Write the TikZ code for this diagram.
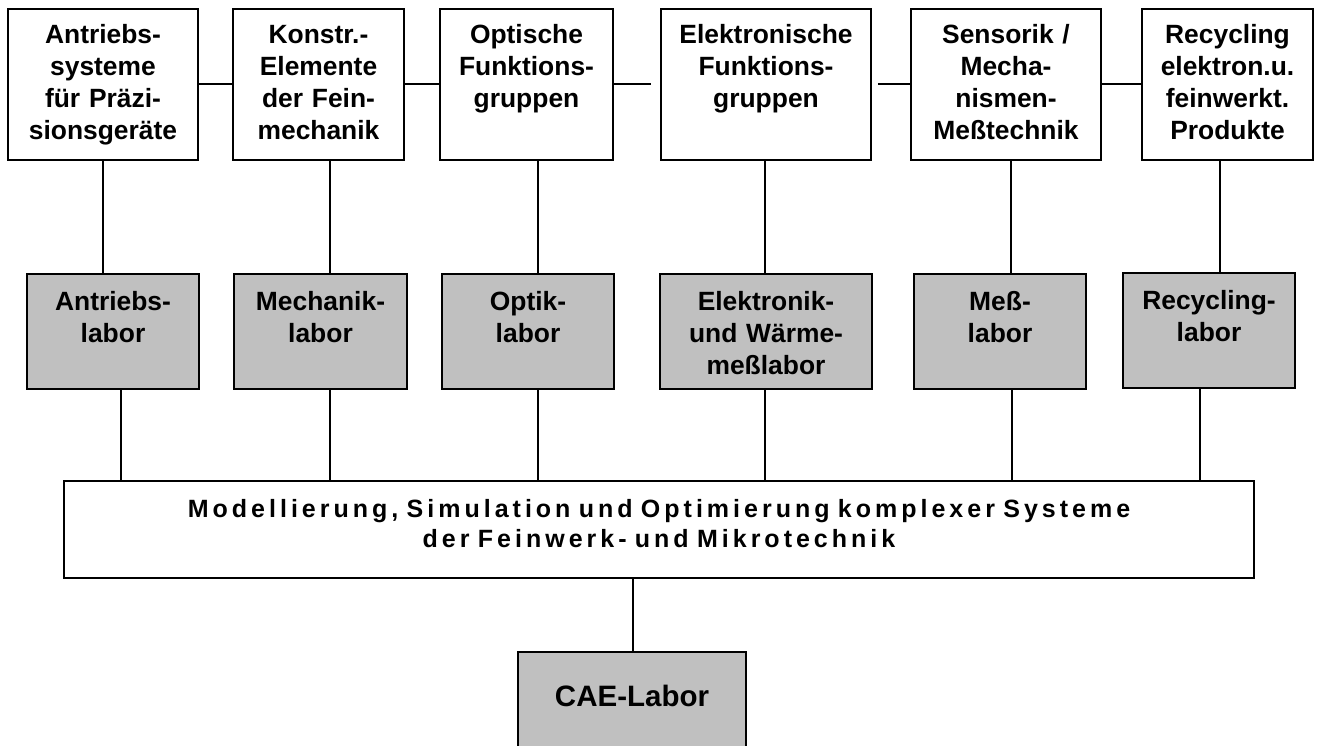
\documentclass[tikz,border=0pt]{standalone}
\usepackage{fontspec}
\setmainfont{Liberation Sans}
\newfontfamily\spacedfont[LetterSpace=16,WordSpace=1.2]{Liberation Sans}
\definecolor{labgray}{HTML}{C0C0C0}
\begin{document}
\begin{tikzpicture}[x=1pt,y=-1pt,
        box/.style={draw,line width=1.8pt,inner sep=0pt,align=center,anchor=north,
            font=\fontsize{26.4}{31.7}\selectfont\bfseries},
        topbox/.style={box,text height=35pt,text depth=116pt},
        labbox/.style={box,fill=labgray,text height=37pt,text depth=78pt},
        vline/.style={line width=1.3pt},
        hline/.style={line width=1.9pt}]
\useasboundingbox (0,0) rectangle (1322,745);

\node[topbox,text width=190pt] at (103,8) (t1) {Antriebs-\\systeme\\für Präzi-\\sionsgeräte};
\node[topbox,text width=171pt] at (318.5,8) (t2) {Konstr.-\\Elemente\\der Fein-\\mechanik};
\node[topbox,text width=173pt] at (526.5,8) (t3) {Optische\\Funktions-\\gruppen};
\node[topbox,text width=210pt] at (766,8) (t4) {Elektronische\\Funktions-\\gruppen};
\node[topbox,text width=190pt] at (1006,8) (t5) {Sensorik /\\Mecha-\\nismen-\\Meßtechnik};
\node[topbox,text width=171pt] at (1227.5,8) (t6) {Recycling\\elektron.u.\\feinwerkt.\\Produkte};

\node[labbox,text width=172.5pt] at (113,273) (m1) {Antriebs-\\labor};
\node[labbox,text width=173pt] at (320.5,273) (m2) {Mechanik-\\labor};
\node[labbox,text width=172.5pt] at (528,273) (m3) {Optik-\\labor};
\node[labbox,text width=212pt] at (766,273) (m4) {Elektronik-\\und Wärme-\\meßlabor};
\node[labbox,text width=171.5pt] at (1000,273) (m5) {Meß-\\labor};
\node[labbox,text width=172pt] at (1209,272) (m6) {Recycling-\\labor};

\node[box,text width=1190pt,text height=37pt,text depth=60pt,
    font=\spacedfont\fontsize{25}{30}\selectfont\bfseries] at (659,480) (model)
    {Modellierung, Simulation und Optimierung komplexer Systeme\\der Feinwerk- und Mikrotechnik};
\node[box,fill=labgray,text width=228pt,text height=55pt,text depth=42pt,
    font=\fontsize{29.5}{35}\selectfont\bfseries] at (632,651) (cae) {CAE-Labor};

\draw[hline] (t1.east) -- (t2.west);
\draw[hline] (t2.east) -- (t3.west);
\draw[hline] (t3.east) -- ([xshift=-9pt]t4.west);
\draw[hline] ([xshift=6pt]t4.east) -- (t5.west);
\draw[hline] (t5.east) -- (t6.west);

\draw[vline] (t1.south -| 103,0) -- (m1.north -| 103,0);
\draw[vline] (t2.south -| 330,0) -- (m2.north -| 330,0);
\draw[vline] (t3.south -| 538,0) -- (m3.north -| 538,0);
\draw[vline] (t4.south -| 765,0) -- (m4.north -| 765,0);
\draw[vline] (t5.south -| 1011,0) -- (m5.north -| 1011,0);
\draw[vline] (t6.south -| 1220,0) -- (m6.north -| 1220,0);

\draw[vline] (m1.south -| 121,0) -- (model.north -| 121,0);
\draw[vline] (m2.south -| 330,0) -- (model.north -| 330,0);
\draw[vline] (m3.south -| 538,0) -- (model.north -| 538,0);
\draw[vline] (m4.south -| 765,0) -- (model.north -| 765,0);
\draw[vline] (m5.south -| 1012,0) -- (model.north -| 1012,0);
\draw[vline] (m6.south -| 1200,0) -- (model.north -| 1200,0);

\draw[vline] (model.south -| 633,0) -- (cae.north -| 633,0);
\end{tikzpicture}
\end{document}
